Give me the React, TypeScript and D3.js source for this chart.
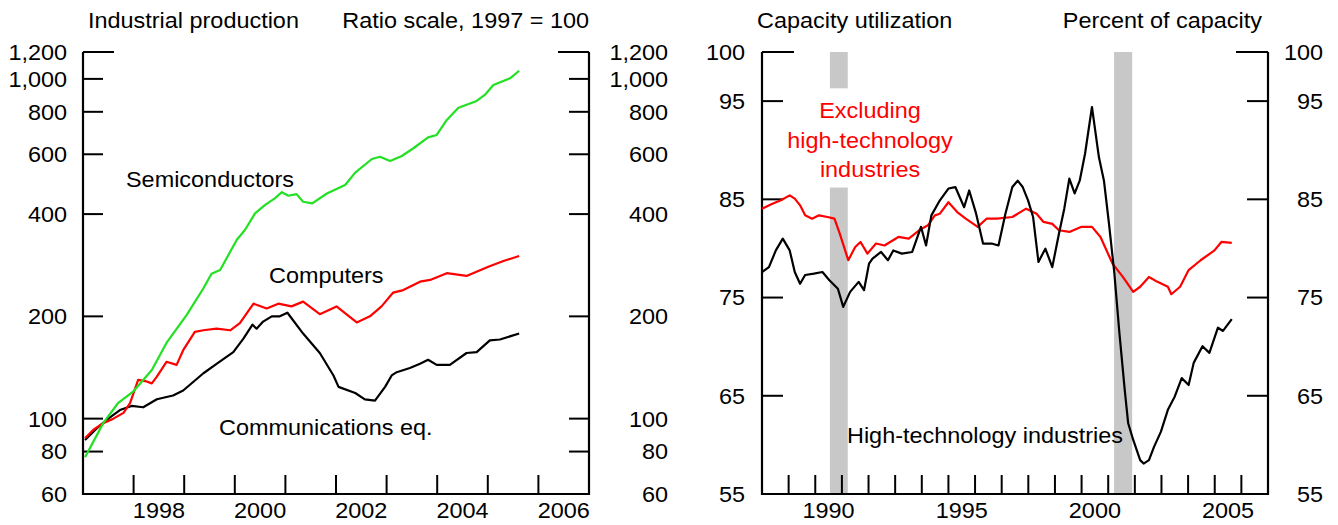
import React from 'react';
import * as d3 from 'd3';

// Left panel: industrial production, ratio scale, 1997 = 100
const semiconductors: [number, number][] = [
  [1997.04, 77], [1997.4, 97], [1997.69, 111], [1997.99, 120], [1998.36, 139], [1998.65, 167],
  [1999.05, 202], [1999.38, 242], [1999.54, 267], [1999.71, 274], [2000.04, 336], [2000.2, 359],
  [2000.4, 402], [2000.6, 426], [2000.79, 445], [2000.93, 464], [2001.06, 453], [2001.22, 458],
  [2001.35, 435], [2001.53, 430], [2001.82, 460], [2002.18, 487], [2002.38, 530], [2002.71, 581],
  [2002.87, 590], [2003.07, 573], [2003.3, 593], [2003.53, 625], [2003.82, 673], [2003.99, 684],
  [2004.19, 757], [2004.42, 822], [2004.78, 861], [2004.94, 897], [2005.11, 959], [2005.44, 1004],
  [2005.62, 1057],
];

const computers: [number, number][] = [
  [1997.04, 87.5], [1997.2, 92.6], [1997.4, 97], [1997.6, 100], [1997.8, 104], [1997.93, 111],
  [1998.09, 130], [1998.23, 129], [1998.36, 127], [1998.46, 133], [1998.65, 147], [1998.85, 144],
  [1998.98, 159], [1999.21, 180], [1999.38, 182], [1999.64, 184], [1999.91, 182], [2000.1, 191],
  [2000.37, 218], [2000.63, 211], [2000.86, 218], [2001.12, 214], [2001.35, 221], [2001.68, 203],
  [2002.01, 214], [2002.41, 192], [2002.67, 200], [2002.9, 214], [2003.13, 235], [2003.33, 239],
  [2003.66, 253], [2003.86, 256], [2004.19, 268], [2004.58, 263], [2005.01, 280], [2005.31, 291],
  [2005.62, 301],
];

const communications: [number, number][] = [
  [1997.04, 86.5], [1997.27, 93.6], [1997.5, 100], [1997.73, 106], [1997.96, 109], [1998.19, 108],
  [1998.46, 114], [1998.78, 117], [1998.98, 121], [1999.38, 136], [1999.64, 145], [1999.97, 157],
  [2000.17, 172], [2000.35, 189], [2000.43, 184], [2000.56, 193], [2000.73, 200], [2000.89, 200],
  [2001.04, 205], [2001.35, 178], [2001.68, 156], [2001.95, 134], [2002.05, 124], [2002.38, 119],
  [2002.57, 114], [2002.77, 113], [2002.97, 124], [2003.1, 134], [2003.2, 137], [2003.46, 141],
  [2003.66, 145], [2003.82, 149], [2003.99, 144], [2004.25, 144], [2004.58, 156], [2004.78, 157],
  [2005.04, 170], [2005.24, 171], [2005.62, 178],
];

const leftTicks = [1200, 1000, 800, 600, 400, 200, 100, 80, 60];
const leftYearTicks = [1998, 1999, 2000, 2001, 2002, 2003, 2004, 2005, 2006];
const leftYearLabels = [1998, 2000, 2002, 2004, 2006];

// Right panel: capacity utilization, percent of capacity
const excludingHighTech: [number, number][] = [
  [1988.0, 84.05], [1988.39, 84.56], [1988.71, 84.9], [1989.04, 85.4], [1989.23, 85.07],
  [1989.43, 84.39], [1989.62, 83.37], [1989.88, 83.03], [1990.14, 83.37], [1990.46, 83.2],
  [1990.72, 83.03], [1990.92, 81.5], [1991.24, 78.8], [1991.5, 80.15], [1991.7, 80.66],
  [1991.96, 79.47], [1992.28, 80.5], [1992.6, 80.3], [1993.12, 81.17], [1993.51, 81.0],
  [1993.9, 81.85], [1994.23, 82.36], [1994.49, 83.37], [1994.68, 83.54], [1995.0, 84.7],
  [1995.33, 83.7], [1995.65, 83.03], [1996.1, 82.2], [1996.43, 83.03], [1996.82, 83.03],
  [1997.4, 83.2], [1997.92, 84.05], [1998.31, 83.54], [1998.57, 82.7], [1998.9, 82.5],
  [1999.15, 81.85], [1999.54, 81.68], [2000.0, 82.2], [2000.39, 82.2], [2000.71, 81.17],
  [2001.16, 78.46], [2001.55, 77.1], [2001.94, 75.58], [2002.2, 76.1], [2002.53, 77.1],
  [2002.85, 76.6], [2003.24, 76.1], [2003.37, 75.34], [2003.7, 76.1], [2004.02, 77.8],
  [2004.47, 78.8], [2004.99, 79.8], [2005.25, 80.66], [2005.64, 80.56],
];

const highTech: [number, number][] = [
  [1988.0, 77.6], [1988.26, 78.1], [1988.52, 79.8], [1988.78, 81.0], [1989.04, 79.8],
  [1989.23, 77.6], [1989.43, 76.4], [1989.62, 77.3], [1989.95, 77.44], [1990.27, 77.6],
  [1990.53, 76.76], [1990.85, 75.9], [1991.05, 74.05], [1991.31, 75.58], [1991.63, 76.6],
  [1991.83, 75.75], [1992.02, 78.46], [1992.15, 78.97], [1992.47, 79.64], [1992.73, 78.8],
  [1992.93, 79.8], [1993.25, 79.47], [1993.64, 79.64], [1993.97, 82.2], [1994.16, 80.3],
  [1994.36, 83.37], [1994.68, 84.9], [1995.0, 86.1], [1995.26, 86.25], [1995.59, 84.2],
  [1995.78, 85.9], [1996.04, 83.54], [1996.3, 80.5], [1996.62, 80.5], [1996.88, 80.3],
  [1997.14, 83.54], [1997.4, 86.25], [1997.6, 86.9], [1997.79, 86.25], [1997.99, 84.9],
  [1998.18, 83.2], [1998.38, 78.63], [1998.64, 79.98], [1998.9, 78.1], [1999.15, 81.5],
  [1999.35, 84.05], [1999.54, 87.1], [1999.74, 85.6], [1999.93, 86.9], [2000.13, 89.64],
  [2000.39, 94.4], [2000.65, 89.3], [2000.84, 86.9], [2001.03, 82.5], [2001.23, 77.5],
  [2001.42, 71.4], [2001.62, 65.6], [2001.75, 62.2], [2001.94, 60.5], [2002.2, 58.45],
  [2002.33, 58.1], [2002.53, 58.45], [2002.72, 59.8], [2002.98, 61.35], [2003.24, 63.57],
  [2003.5, 64.93], [2003.76, 66.8], [2004.02, 66.1], [2004.21, 68.35], [2004.54, 70.05],
  [2004.8, 69.37], [2005.12, 71.93], [2005.31, 71.6], [2005.64, 72.8],
];

// recession shading: [start, end, low, high] (the 1990 bar is broken around the label)
const recessionBars: [number, number, number, number][] = [
  [1990.55, 1991.22, 96.3, 100],
  [1990.55, 1991.22, 55, 86.2],
  [2001.22, 2001.9, 55, 100],
];

const rightTicks = [100, 95, 85, 75, 65, 55];
const rightYearTicks = d3.range(1989, 2007);
const rightYearLabels = [1990, 1995, 2000, 2005];

const W = 1338;
const H = 525;
const TOP = 52;
const BOTTOM = 494;
const FONT = '"Liberation Sans", Arial, Helvetica, sans-serif';

const xL = d3.scaleLinear().domain([1997, 2007]).range([83, 589]);
const yL = d3.scaleLog().domain([60, 1200]).range([BOTTOM, TOP]);
const xR = d3.scaleLinear().domain([1988, 2007]).range([762, 1268]);
const yR = d3.scaleLinear().domain([55, 100]).range([BOTTOM, TOP]);

const T: React.FC<{ x: number; y: number; anchor?: string; fill?: string; dy?: string; children: React.ReactNode }> = ({
  x, y, anchor = 'start', fill = '#000', dy, children,
}) => (
  <text
    transform={`translate(${x},${y}) scale(1.065,1)`}
    textAnchor={anchor}
    fill={fill}
    dy={dy}
    fontSize={22}
    fontFamily={FONT}
  >
    {children}
  </text>
);

const fmt = d3.format(',');

export default function App() {
  const lineL = d3.line<[number, number]>().x(d => xL(d[0])).y(d => yL(d[1]));
  const lineR = d3.line<[number, number]>().x(d => xR(d[0])).y(d => yR(d[1]));

  const L0 = xL.range()[0], L1 = xL.range()[1];
  const R0 = xR.range()[0], R1 = xR.range()[1];

  return (
    <svg width={W} height={H} style={{ position: 'absolute', left: 0, top: 0, background: '#fff' }}>
      {/* ---------- left panel ---------- */}
      <T x={88} y={28}>Industrial production</T>
      <T x={589} y={28} anchor="end">Ratio scale, 1997 = 100</T>

      {leftTicks.map(v => (
        <g key={v}>
          {v !== 60 && (
            <>
              <line x1={L0} x2={L0 + (v === 1200 ? 31 : 20)} y1={yL(v)} y2={yL(v)} stroke="#000" strokeWidth={2} />
              <line x1={L1} x2={L1 - (v === 1200 ? 31 : 20)} y1={yL(v)} y2={yL(v)} stroke="#000" strokeWidth={2} />
            </>
          )}
          <T x={67} y={yL(v)} anchor="end" dy="0.36em">{fmt(v)}</T>
          <T x={668} y={yL(v)} anchor="end" dy="0.36em">{fmt(v)}</T>
        </g>
      ))}
      {leftYearTicks.map(y => (
        <line key={y} x1={xL(y)} x2={xL(y)} y1={BOTTOM} y2={BOTTOM - 19} stroke="#000" strokeWidth={2} />
      ))}
      {leftYearLabels.map(y => (
        <T key={y} x={xL(y + 0.5)} y={518} anchor="middle">{y}</T>
      ))}
      <path d={`M${L0},${yL(1200)}V${BOTTOM}H${L1}V${yL(1200)}`} fill="none" stroke="#000" strokeWidth={2.2} />

      <path d={lineL(communications) ?? ''} fill="none" stroke="#000" strokeWidth={2.2} strokeLinejoin="round" />
      <path d={lineL(computers) ?? ''} fill="none" stroke="#ff0000" strokeWidth={2.2} strokeLinejoin="round" />
      <path d={lineL(semiconductors) ?? ''} fill="none" stroke="#22e022" strokeWidth={2.2} strokeLinejoin="round" />

      <T x={126} y={187}>Semiconductors</T>
      <T x={269} y={283}>Computers</T>
      <T x={219} y={435}>Communications eq.</T>

      {/* ---------- right panel ---------- */}
      {recessionBars.map((b, i) => (
        <rect key={i} x={xR(b[0])} width={xR(b[1]) - xR(b[0])} y={yR(b[3])} height={yR(b[2]) - yR(b[3])} fill="#c8c8c8" />
      ))}

      <T x={757} y={28}>Capacity utilization</T>
      <T x={1262} y={28} anchor="end">Percent of capacity</T>

      {rightTicks.map(v => (
        <g key={v}>
          {v !== 55 && (
            <>
              <line x1={R0} x2={R0 + (v === 100 ? 32 : 21)} y1={yR(v)} y2={yR(v)} stroke="#000" strokeWidth={2} />
              <line x1={R1} x2={R1 - (v === 100 ? 32 : 21)} y1={yR(v)} y2={yR(v)} stroke="#000" strokeWidth={2} />
            </>
          )}
          <T x={745} y={yR(v)} anchor="end" dy="0.36em">{v}</T>
          <T x={1323} y={yR(v)} anchor="end" dy="0.36em">{v}</T>
        </g>
      ))}
      {rightYearTicks.map(y => (
        <line key={y} x1={xR(y)} x2={xR(y)} y1={BOTTOM} y2={BOTTOM - 19} stroke="#000" strokeWidth={2} />
      ))}
      {rightYearLabels.map(y => (
        <T key={y} x={xR(y + 0.5)} y={518} anchor="middle">{y}</T>
      ))}
      <path d={`M${R0},${yR(100)}V${BOTTOM}H${R1}V${yR(100)}`} fill="none" stroke="#000" strokeWidth={2.2} />

      <path d={lineR(excludingHighTech) ?? ''} fill="none" stroke="#ff0000" strokeWidth={2.2} strokeLinejoin="round" />
      <path d={lineR(highTech) ?? ''} fill="none" stroke="#000" strokeWidth={2.2} strokeLinejoin="round" />

      <T x={870} y={118} anchor="middle" fill="#ff0000">Excluding</T>
      <T x={870} y={147.5} anchor="middle" fill="#ff0000">high-technology</T>
      <T x={870} y={177} anchor="middle" fill="#ff0000">industries</T>
      <T x={847} y={443}>High-technology industries</T>
    </svg>
  );
}
